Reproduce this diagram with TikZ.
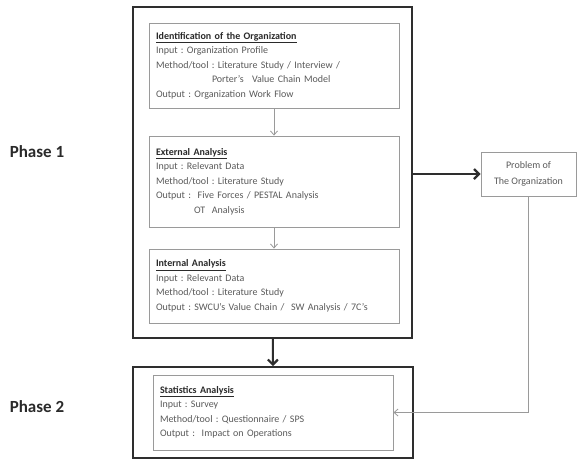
\documentclass[tikz,border=0pt]{standalone}
\usepackage{fontspec}
\setmainfont{Carlito}
\usetikzlibrary{arrows.meta}
\definecolor{txt}{HTML}{5A5A5A}
\definecolor{ttl}{HTML}{2A2A2A}
\definecolor{inb}{HTML}{9A9A9A}
\definecolor{outb}{HTML}{2E2E2E}
\newcommand{\ttlline}[1]{\textcolor{ttl}{\underline{\textbf{#1}}}}
\frenchspacing
\begin{document}
\begin{tikzpicture}[x=1pt,y=-1pt,
  outerbox/.style={draw=outb, line width=1.8pt, inner sep=0pt},
  inbox/.style={draw=inb, line width=0.9pt, inner xsep=7pt, inner ysep=0pt, align=left,
    text=txt, font=\frenchspacing\fontsize{10}{14.5}\selectfont},
  probbox/.style={draw=inb, line width=0.9pt, inner sep=0pt, align=center,
    text=txt, font=\fontsize{10}{15.5}\selectfont},
  thinarrow/.style={draw=inb, line width=0.8pt, -{Straight Barb[length=4pt,width=7pt]}},
  thickarrow/.style={draw=outb, line width=2.2pt, -{Straight Barb[length=5pt,width=10pt]}},
  phase/.style={text=ttl, font=\fontsize{17}{20}\selectfont\bfseries}]
\useasboundingbox (0,0) rectangle (577,459);
\fill[white] (0,0) rectangle (577,459);

\node[outerbox, minimum width=279pt, minimum height=331pt] (p1) at (272.5,172.5) {};
\node[outerbox, minimum width=280pt, minimum height=91pt] (p2) at (273,412.5) {};

\node[inbox, text width=236pt, minimum height=85pt] (b1) at (274,65.5) {%
\ttlline{Identification of the Organization}\\
Input : Organization Profile\\
Method/tool : Literature Study / Interview /\\
\hspace*{56pt}Porter's\hspace{5pt} Value Chain Model\\
Output : Organization Work Flow};

\node[inbox, text width=236pt, minimum height=91pt] (b2) at (274,181.5) {%
\ttlline{External Analysis}\\
Input : Relevant Data\\
Method/tool : Literature Study\\
Output :~ Five Forces / PESTAL Analysis\\
\hspace*{38pt}OT~ Analysis};

\node[inbox, text width=236pt, minimum height=74pt] (b3) at (274,286) {%
\ttlline{Internal Analysis}\\
Input : Relevant Data\\
Method/tool : Literature Study\\
Output : SWCU's Value Chain /~ SW Analysis / 7C's};

\node[inbox, text width=226pt, minimum height=75pt] (st) at (273,412.5) {%
\ttlline{Statistics Analysis}\\
Input : Survey\\
Method/tool : Questionnaire / SPS\\
Output :~ Impact on Operations};

\node[probbox, minimum width=95pt, minimum height=44pt] (prob) at (528.5,174) {Problem of\\The Organization};

\node[phase] (ph1) at (37,152) {Phase 1};
\node[phase] (ph2) at (37,407) {Phase 2};

\draw[thinarrow] (b1) -- (b2);
\draw[thinarrow] (b2) -- (b3);
\draw[thickarrow] (p1) -- (p2);
\draw[thickarrow] (p1.east |- prob.west) -- (prob.west);
\draw[thinarrow] (prob.south) -- (prob.south |- st.east) -- (st.east);
\end{tikzpicture}
\end{document}
